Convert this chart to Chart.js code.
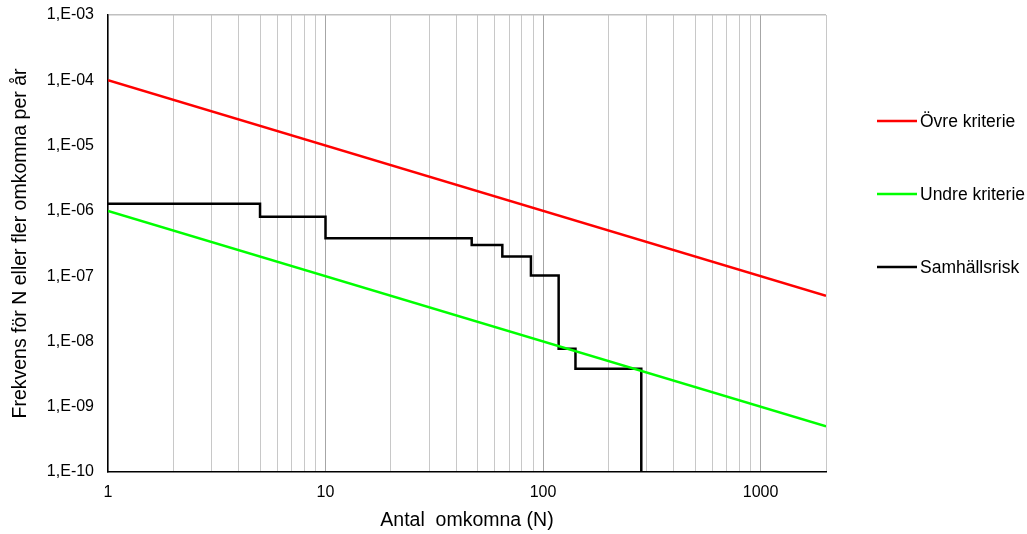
<!DOCTYPE html>
<html>
<head>
<meta charset="utf-8">
<script src="https://cdn.jsdelivr.net/npm/chart.js@4/dist/chart.umd.min.js"></script>
<style>
  html, body { margin: 0; padding: 0; background: #fff; }
  #wrap { position: relative; width: 1027px; height: 534px; }
</style>
</head>
<body>
<div id="wrap"><canvas id="c" width="1027" height="534"></canvas></div>
<script>
// ---- Data ----
const seriesNames = ['Övre kriterie', 'Undre kriterie', 'Samhällsrisk'];
const critN = [1, 2000];
const upperF = [1e-4, 5e-8];
const lowerF = [1e-6, 5e-10];
const riskN = [1, 5, 10, 47, 65, 88, 118, 141, 283];
const riskF = [1.28e-6, 8.1e-7, 3.8e-7, 3.0e-7, 2.0e-7, 1.02e-7, 7.7e-9, 3.8e-9, 1e-10];
const xTickValues = [1, 10, 100, 1000];
const xTickLabels = ['1', '10', '100', '1000'];
const xGridValues = [1,2,3,4,5,6,7,8,9,10,20,30,40,50,60,70,80,90,100,200,300,400,500,600,700,800,900,1000,2000];
const yTickValues = [1e-10, 1e-9, 1e-8, 1e-7, 1e-6, 1e-5, 1e-4, 1e-3];
const yTickLabels = ['1,E-10', '1,E-09', '1,E-08', '1,E-07', '1,E-06', '1,E-05', '1,E-04', '1,E-03'];
const xTitle = 'Antal  omkomna (N)';
const yTitle = 'Frekvens för N eller fler omkomna per år';

const colors = ['#ff0000', '#00ff00', '#000000'];
const FONT = "'Liberation Sans', Arial, sans-serif";

function pts(xs, ys) { return xs.map((x, i) => ({ x: x, y: ys[i] })); }

const legendPlugin = {
  id: 'sideLegend',
  afterDraw(chart) {
    const ctx = chart.ctx;
    const ys = [121, 194, 267];
    ctx.save();
    chart.data.datasets.forEach((ds, i) => {
      ctx.strokeStyle = ds.borderColor;
      ctx.lineWidth = 2.5;
      ctx.beginPath();
      ctx.moveTo(877, ys[i]);
      ctx.lineTo(917, ys[i]);
      ctx.stroke();
      ctx.fillStyle = '#000';
      ctx.font = '17.5px ' + FONT;
      ctx.textBaseline = 'middle';
      ctx.textAlign = 'left';
      ctx.fillText(ds.label, 920, ys[i] + 1);
    });
    ctx.restore();
  }
};

new Chart(document.getElementById('c'), {
  type: 'line',
  data: {
    datasets: [
      { label: seriesNames[0], data: pts(critN, upperF), borderColor: colors[0], borderWidth: 2.5, pointRadius: 0, fill: false },
      { label: seriesNames[1], data: pts(critN, lowerF), borderColor: colors[1], borderWidth: 2.5, pointRadius: 0, fill: false },
      { label: seriesNames[2], data: pts(riskN, riskF), borderColor: colors[2], borderWidth: 2.5, pointRadius: 0, fill: false, stepped: 'before' }
    ]
  },
  options: {
    responsive: false,
    animation: false,
    layout: { padding: { top: 15, right: 201, bottom: 0, left: 0 } },
    plugins: { legend: { display: false }, tooltip: { enabled: false } },
    scales: {
      x: {
        type: 'logarithmic',
        min: 1, max: 2000,
        afterBuildTicks(scale) { scale.ticks = xGridValues.map(v => ({ value: v })); },
        afterFit(scale) { scale.height = 62; scale.paddingLeft = 0; scale.paddingRight = 0; },
        ticks: {
          autoSkip: false, maxRotation: 0, minRotation: 0, padding: 11,
          color: '#000', font: { family: FONT, size: 16 },
          callback(value) { const i = xTickValues.indexOf(value); return i >= 0 ? xTickLabels[i] : ''; }
        },
        grid: {
          drawTicks: false,
          lineWidth: 1,
          color(ctx) { const v = ctx.tick && ctx.tick.value; return xTickValues.indexOf(v) >= 0 && v !== 1 ? '#a6a6a6' : '#c8c8c8'; }
        },
        border: { display: true, color: '#000', width: 1.5 },
        title: { display: true, text: xTitle, color: '#000', font: { family: FONT, size: 19.5 }, padding: { top: 0, bottom: 2 } }
      },
      y: {
        type: 'logarithmic',
        min: 1e-10, max: 1e-3,
        afterBuildTicks(scale) { scale.ticks = yTickValues.map(v => ({ value: v })); },
        afterFit(scale) { scale.width = 108; scale.paddingTop = 0; scale.paddingBottom = 0; },
        ticks: {
          autoSkip: false, padding: 14,
          color: '#000', font: { family: FONT, size: 16 },
          callback(value) { const i = yTickValues.findIndex(v => Math.abs(v - value) / v < 1e-6); return i >= 0 ? yTickLabels[i] : ''; }
        },
        grid: {
          drawTicks: false,
          lineWidth: 1.5,
          color(ctx) { const v = ctx.tick && ctx.tick.value; return v && Math.abs(v - 1e-3) / 1e-3 < 1e-6 ? '#c0c0c0' : 'rgba(0,0,0,0)'; }
        },
        border: { display: true, color: '#000', width: 1.5 },
        title: { display: true, text: yTitle, color: '#000', font: { family: FONT, size: 19.5 }, padding: { top: 9, bottom: 0 } }
      }
    }
  },
  plugins: [legendPlugin]
});
</script>
</body>
</html>
